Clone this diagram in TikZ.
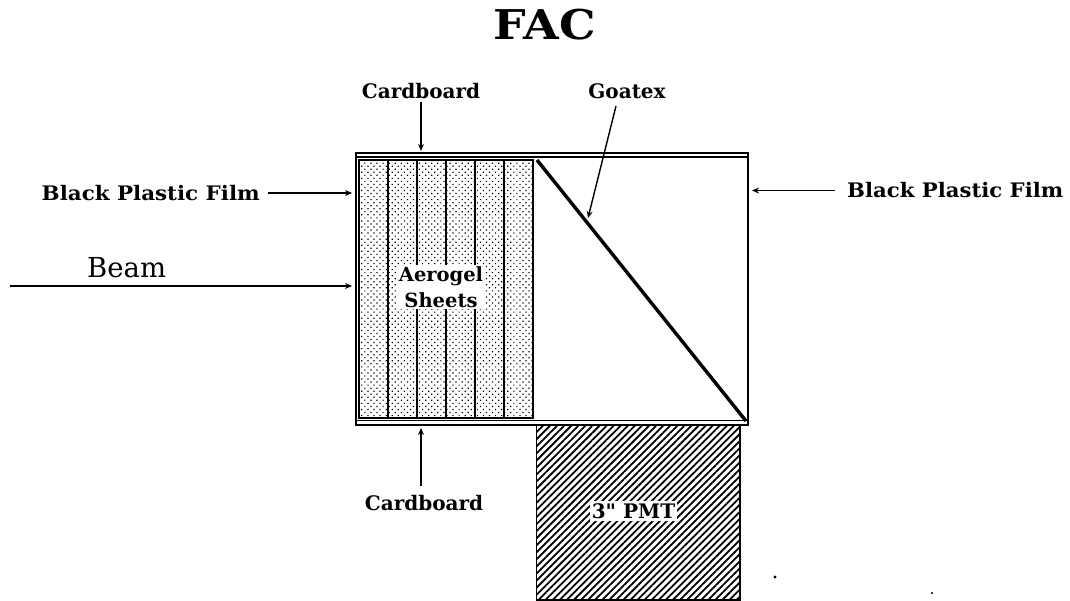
\documentclass[tikz,border=0pt]{standalone}
\usepackage{fontspec}
\setmainfont{DejaVu Serif}
\newfontfamily\plainq{DejaVu Serif}
\usetikzlibrary{arrows.meta,patterns.meta}
\tikzset{
  lbl/.style={inner sep=1.5pt,font=\fontsize{20}{22}\selectfont\bfseries},
  arr/.style={line width=1.4pt,-{Stealth[length=7pt,width=6pt]}},
  wall/.style={draw=black,line width=2pt},
  sheet/.style={line width=2pt},
  stipple/.style={pattern={Dots[distance=4.3pt,radius=0.85pt,angle=45]},pattern color=black},
  hatch/.style={pattern={Lines[angle=45,distance=5pt,line width=1.8pt]},pattern color=black},
}
\begin{document}
\begin{tikzpicture}[x=1pt,y=-1pt]
\useasboundingbox[fill=white] (0,0) rectangle (1070,601);
% title
\node[font=\fontsize{41}{44}\selectfont\bfseries,inner sep=0pt] (title) at (545,25) {\scalebox{1.12}[1]{FAC}};
% aerogel block
\fill[stipple] (359,160) rectangle (533,418);
\foreach \x in {388,417,446,475,504} \draw[sheet] (\x,160) -- (\x,418);
\draw[line width=1.3pt] (359,160) rectangle (533,418);
% outer box
\draw[wall] (355.7,153) rectangle (748,424.5);
\draw[line width=1.2pt] (356,157) -- (748,157);
\draw[line width=1.2pt] (356,420.5) -- (748,420.5);
% goatex
\draw[line width=3.4pt] (537,160) -- (746,421);
% PMT
\draw[hatch] (536.5,425) rectangle (739.5,600);
\draw[line width=1.6pt] (536.5,425) -- (536.5,600);
\draw[line width=2pt] (536.5,600) -- (739.5,600) -- (739.5,425);
% labels
\node[fill=white,inner sep=1.5pt,align=center,font=\fontsize{19.5}{26}\selectfont\bfseries] (aero) at (441,287) {Aerogel\\Sheets};
\node[lbl,fill=white,inner sep=2pt] (pmt) at (633.5,511) {{\plainq\bfseries 3"} PMT};
\node[lbl] (cbtop) at (421,91) {Cardboard};
\node[lbl] (cbbot) at (424,503) {Cardboard};
\node[lbl] (goat) at (627,91) {Goatex};
\node[lbl,anchor=east] (bpl) at (261.5,193) {\scalebox{1.07}[1]{Black Plastic Film}};
\node[lbl,anchor=west] (bpr) at (845.5,190) {\scalebox{1.06}[1]{Black Plastic Film}};
\node[font=\fontsize{27.5}{30}\selectfont,anchor=west,inner sep=0pt] (beam) at (87,268) {Beam};
% arrow ends
\coordinate (a0) at (616,106);
\coordinate (a1) at (421,151);
\coordinate (a2) at (421,428);
\coordinate (a2s) at (421,486);
\coordinate (a1s) at (421,102);
\coordinate (a3) at (588,218);
\coordinate (a4s) at (268,193);
\coordinate (a4) at (352,193);
\coordinate (a5s) at (835,190.5);
\coordinate (a5) at (752,190.5);
\coordinate (b0) at (10,286);
\coordinate (b1) at (352,286);
\draw[arr] (a1s) -- (a1);
\draw[arr] (a2s) -- (a2);
\draw[arr] (a0) -- (a3);
\draw[arr] (a4s) -- (a4);
\draw[arr] (a5s) -- (a5);
\draw[arr,line width=1.8pt] (b0) -- (b1);
% scan specks
\fill (775,577) circle (1.6pt);
\fill (932,593) circle (1.2pt);
\end{tikzpicture}
\end{document}
